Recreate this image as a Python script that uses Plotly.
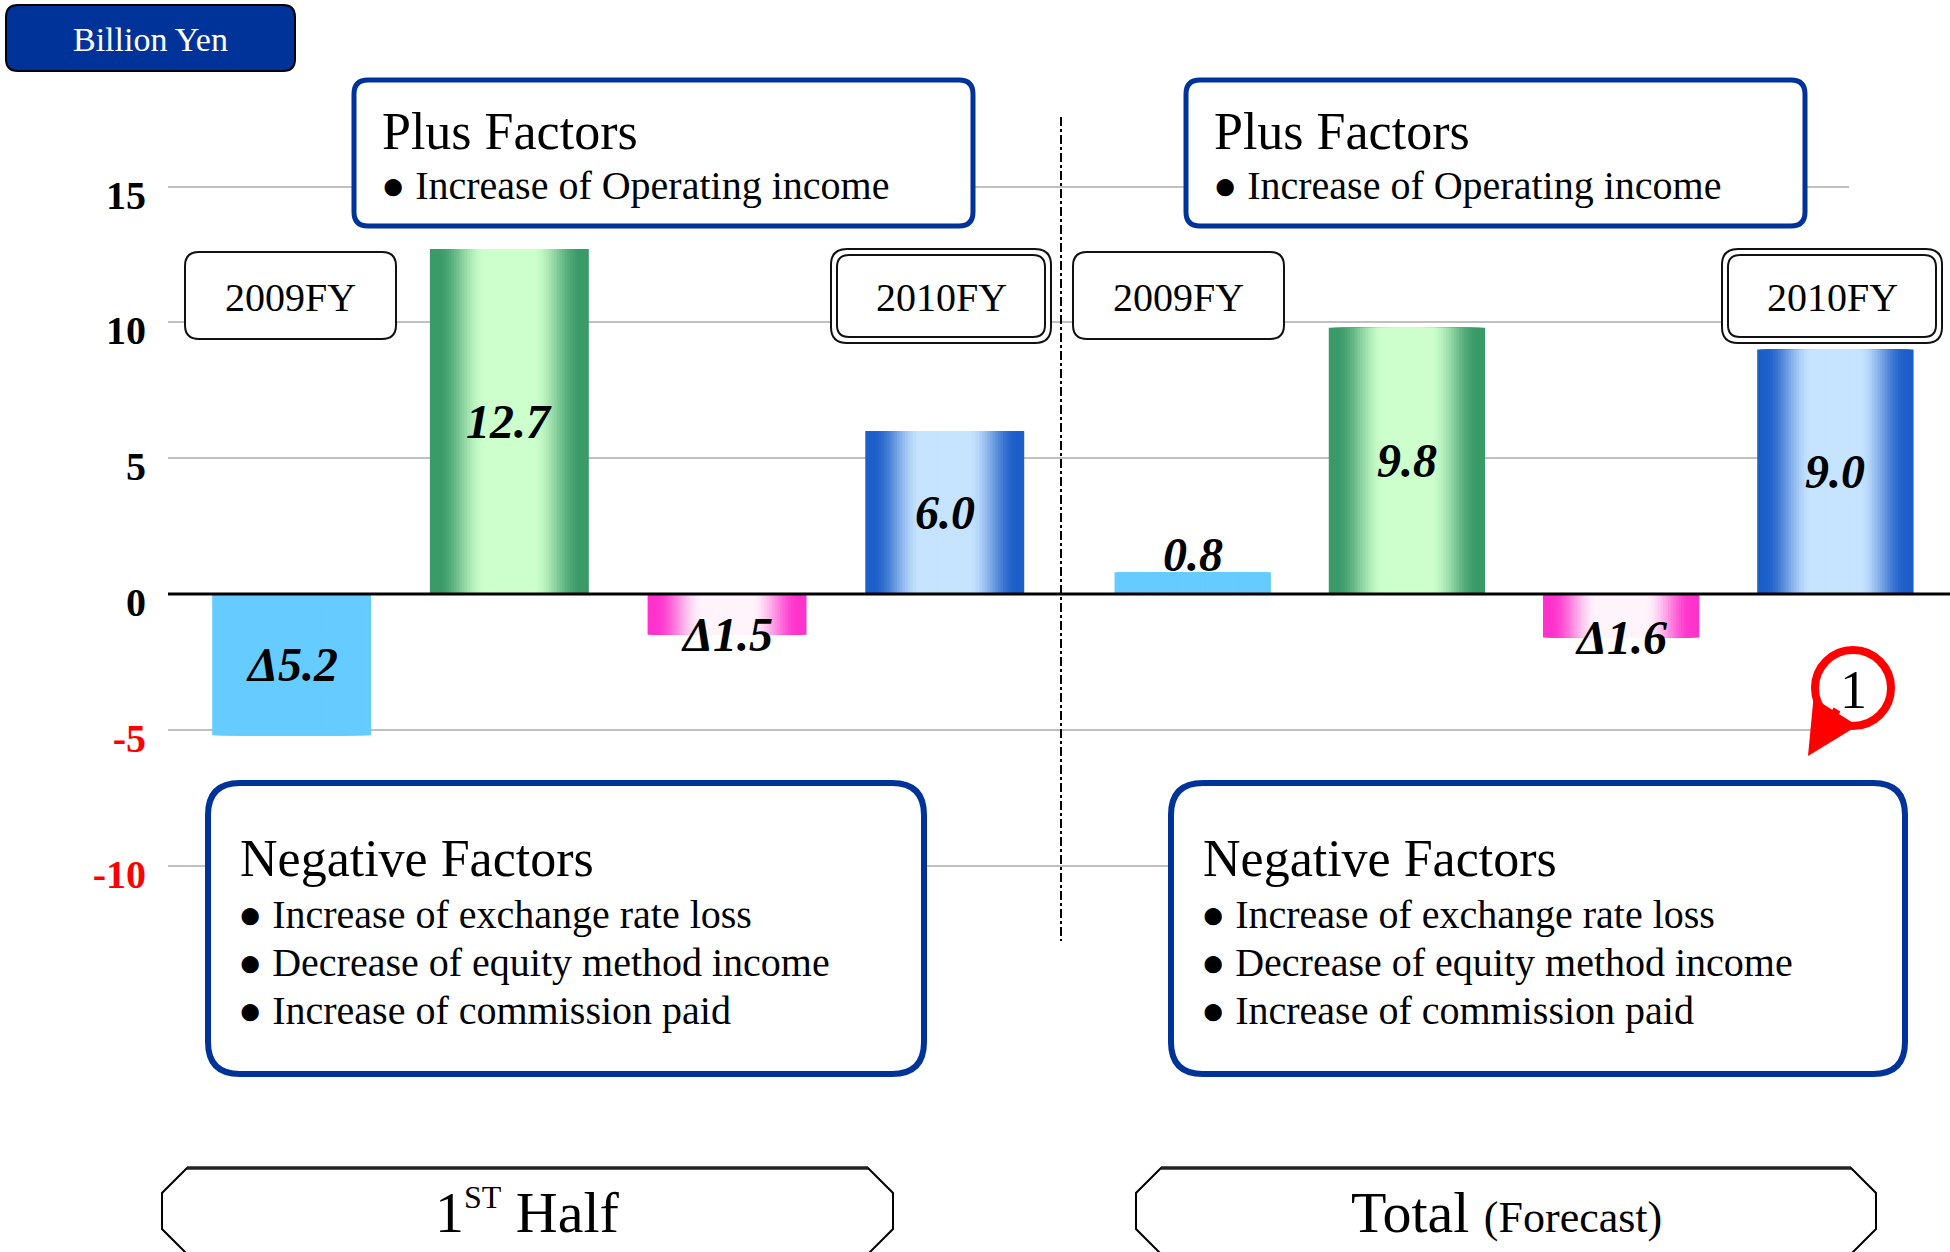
# profit bridge chart: 1st half and full-year forecast, billion yen
import plotly.graph_objects as go

W, H = 1950, 1252

# chart data
steps = ["2009FY", "Plus Factors", "Negative Factors", "2010FY"]
step_kinds = ["base", "plus", "minus", "result"]
half_values = [-5.2, 12.7, -1.5, 6.0]
total_values = [0.8, 9.8, -1.6, 9.0]
half_labels = ["Δ5.2", "12.7", "Δ1.5", "6.0"]
total_labels = ["0.8", "9.8", "Δ1.6", "9.0"]
y_ticks = [-10, -5, 0, 5, 10, 15]

unit_label = "Billion Yen"
plus_items = ["Increase of Operating income"]
negative_items = ["Increase of exchange rate loss",
                  "Decrease of equity method income",
                  "Increase of commission paid"]
panel_titles = ["1<sup><span style=\"font-size:32px\">ST</span></sup> Half",
                "Total <span style=\"font-size:44px\">(Forecast)</span>"]

SERIF = "Liberation Serif, Times New Roman, serif"
BLUE = "#003399"
BULLET = "<span style=\"font-size:40px\">●</span> "

# edge colour / centre colour of each bar kind (horizontal gradient)
kind_colors = {
    "base": ("#66CCFF", "#66CCFF"),
    "plus": ("#3A9A68", "#CCFFCC"),
    "minus": ("#FF33CC", "#FFF4FB"),
    "result": ("#1D5FC9", "#C6E3FF"),
}


def fx(x):
    return x / W


def fy(y):
    return 1 - y / H


def hex_rgb(h):
    h = h.lstrip("#")
    return [int(h[i:i + 2], 16) for i in (0, 2, 4)]


def mix(c0, c1, t):
    a, b = hex_rgb(c0), hex_rgb(c1)
    return "rgb(%d,%d,%d)" % tuple(round(a[i] + (b[i] - a[i]) * t) for i in range(3))


def rrect(x0, y0, x1, y1, r):
    # rounded rectangle path in paper coords, input in pixels
    p = lambda x, y: f"{fx(x):.5f},{fy(y):.5f}"
    return (f"M{p(x0 + r, y0)} L{p(x1 - r, y0)} Q{p(x1, y0)} {p(x1, y0 + r)} "
            f"L{p(x1, y1 - r)} Q{p(x1, y1)} {p(x1 - r, y1)} L{p(x0 + r, y1)} "
            f"Q{p(x0, y1)} {p(x0, y1 - r)} L{p(x0, y0 + r)} Q{p(x0, y0)} {p(x0 + r, y0)} Z")


def octagon(x0, x1, top, c=25):
    p = lambda x, y: f"{fx(x):.5f},{fy(y):.5f}"
    return (f"M{p(x0 + c, top)} L{p(x1 - c, top)} L{p(x1, top + c)} L{p(x1, top + 61)} "
            f"L{p(x1 - 2 * c, top + 111)} L{p(x0 + 2 * c, top + 111)} L{p(x0, top + 61)} "
            f"L{p(x0, top + c)} Z")


def text_at(x, y, text, size, xanchor="center", color="black"):
    return dict(x=fx(x), y=fy(y), xref="paper", yref="paper", text=text, showarrow=False,
                xanchor=xanchor, yanchor="middle",
                font=dict(family=SERIF, size=size, color=color))


fig = go.Figure()

# gradient bars: overlaid bars of shrinking width, edge colour -> centre colour
N = 30
BAR_W = 0.73
for xa, vals in (("x", half_values), ("x2", total_values)):
    for k in range(N):
        t = k / N
        s = min(1.0, max(0.0, (t - 0.08) / 0.6))
        s = s * s * (3 - 2 * s)
        cols = [mix(kind_colors[kd][0], kind_colors[kd][1], s) for kd in step_kinds]
        fig.add_trace(go.Bar(
            x=steps, y=vals, width=BAR_W * (1 - t),
            marker=dict(color=cols, line=dict(width=0)),
            xaxis=xa, yaxis="y", showlegend=False, hoverinfo="skip"
        ))

annotations = []
label_font = dict(family=SERIF, size=48, color="black", weight="bold", style="italic")
for xa, vals, labels in (("x", half_values, half_labels), ("x2", total_values, total_labels)):
    for cat, kd, v, lab in zip(steps, step_kinds, vals, labels):
        shift = 0
        if kd == "minus":
            yv, ya = v, "middle"
        elif kd == "base" and v > 0:
            yv, ya, shift = v, "bottom", -11
        else:
            yv, ya = v / 2, "middle"
        annotations.append(dict(x=cat, y=yv, xref=xa, yref="y", text=lab, showarrow=False,
                                xanchor="center", yanchor=ya, yshift=shift, font=label_font))

shapes = []
# gridlines stop short of the right edge: white mask between grid and bars
shapes.append(dict(type="rect", xref="x2", yref="y", x0=3.064, x1=3.6, y0=-30, y1=30,
                   fillcolor="white", line=dict(width=0), layer="between"))
# zero line on top of bars
shapes.append(dict(type="line", xref="paper", yref="y", x0=fx(168), x1=1, y0=0, y1=0,
                   line=dict(color="black", width=3)))
# divider between the two panels
shapes.append(dict(type="line", xref="paper", yref="paper", x0=fx(1061), x1=fx(1061),
                   y0=fy(117), y1=fy(941), line=dict(color="black", width=2, dash="dashdot")))

# unit label
shapes.append(dict(type="path", xref="paper", yref="paper", path=rrect(6, 5, 295, 71, 12),
                   fillcolor=BLUE, line=dict(color="black", width=2)))
annotations.append(text_at(150, 40, unit_label, 34, color="white"))

for dx in (0, 832):
    shapes.append(dict(type="path", xref="paper", yref="paper",
                       path=rrect(354 + dx, 80, 973 + dx, 226, 14),
                       fillcolor="white", line=dict(color=BLUE, width=5)))
    annotations.append(text_at(380 + dx, 131, "Plus Factors", 52, xanchor="left"))
    for i, item in enumerate(plus_items):
        annotations.append(text_at(379 + dx, 186 + 48 * i, BULLET + item, 40, xanchor="left"))

for x0, x1 in ((208, 924), (1171, 1905)):
    shapes.append(dict(type="path", xref="paper", yref="paper",
                       path=rrect(x0, 783, x1, 1074, 32),
                       fillcolor="white", line=dict(color=BLUE, width=6)))
    annotations.append(text_at(x0 + 30, 859, "Negative Factors", 52, xanchor="left"))
    for i, item in enumerate(negative_items):
        annotations.append(text_at(x0 + 28, 914 + 48 * i, BULLET + item, 40, xanchor="left"))

# year tags
for x0, x1 in ((185, 396), (1073, 1284)):
    shapes.append(dict(type="path", xref="paper", yref="paper", path=rrect(x0, 252, x1, 339, 14),
                       fillcolor="white", line=dict(color="#111", width=2)))
    annotations.append(text_at((x0 + x1) / 2, 297, steps[0], 40))
for x0, x1 in ((831, 1051), (1722, 1942)):
    shapes.append(dict(type="path", xref="paper", yref="paper", path=rrect(x0, 249, x1, 343, 16),
                       fillcolor="white", line=dict(color="#111", width=2)))
    shapes.append(dict(type="path", xref="paper", yref="paper",
                       path=rrect(x0 + 6, 255, x1 - 6, 337, 12),
                       line=dict(color="#111", width=2)))
    annotations.append(text_at((x0 + x1) / 2, 297, steps[3], 40))

# panel titles
for (x0, x1), title in zip(((162, 893), (1136, 1876)), panel_titles):
    shapes.append(dict(type="path", xref="paper", yref="paper", path=octagon(x0, x1, 1168),
                       fillcolor="white", line=dict(color="black", width=2)))
    shapes.append(dict(type="line", xref="paper", yref="paper", x0=fx(x0 + 25), x1=fx(x1 - 25),
                       y0=fy(1168), y1=fy(1168), line=dict(color="#222", width=3.5)))
    annotations.append(text_at((x0 + x1) / 2, 1212, title, 58))

# circled note marker with arrow
annotations.append(dict(x=fx(1808), y=fy(756), xref="paper", yref="paper", text="",
                        showarrow=True, ax=30, ay=-48, arrowhead=2, arrowsize=1.3,
                        arrowwidth=8, arrowcolor="red", standoff=0))
shapes.append(dict(type="circle", xref="paper", yref="paper",
                   x0=fx(1853 - 38), x1=fx(1853 + 38), y0=fy(688 + 38), y1=fy(688 - 38),
                   fillcolor="white", line=dict(color="red", width=8)))
annotations.append(text_at(1853, 690, "1", 54))

for s in shapes:
    s.setdefault("layer", "above")

tick_text = [f"<span style=\"color:red\">{v}</span>" if v < 0 else str(v) for v in y_ticks]

fig.update_layout(
    width=W, height=H, autosize=False,
    margin=dict(l=0, r=0, t=0, b=0),
    paper_bgcolor="white", plot_bgcolor="white",
    barmode="overlay", hovermode=False, showlegend=False,
    xaxis=dict(domain=[fx(168), fx(1061)], range=[-0.568, 3.534], type="category",
               visible=False, fixedrange=True),
    xaxis2=dict(domain=[fx(1061), 1.0], range=[-0.615, 3.535], type="category",
                visible=False, anchor="y", fixedrange=True),
    yaxis=dict(domain=[0, 1], range=[-24.23, 21.87], anchor="x",
               tickvals=y_ticks, ticktext=tick_text,
               tickfont=dict(family=SERIF, size=40, color="black", weight="bold"),
               ticks="outside", ticklen=13, tickcolor="rgba(0,0,0,0)", ticklabelshift=8,
               showgrid=True, gridcolor="#C0C0C0", gridwidth=2,
               zeroline=False, showline=False, fixedrange=True),
    shapes=shapes,
    annotations=annotations,
)

# the page has a default body margin; drop it so the figure sits at the window origin
fig.write_html("out.html", config={"displayModeBar": False},
               post_script="document.body.style.margin='0px';")
